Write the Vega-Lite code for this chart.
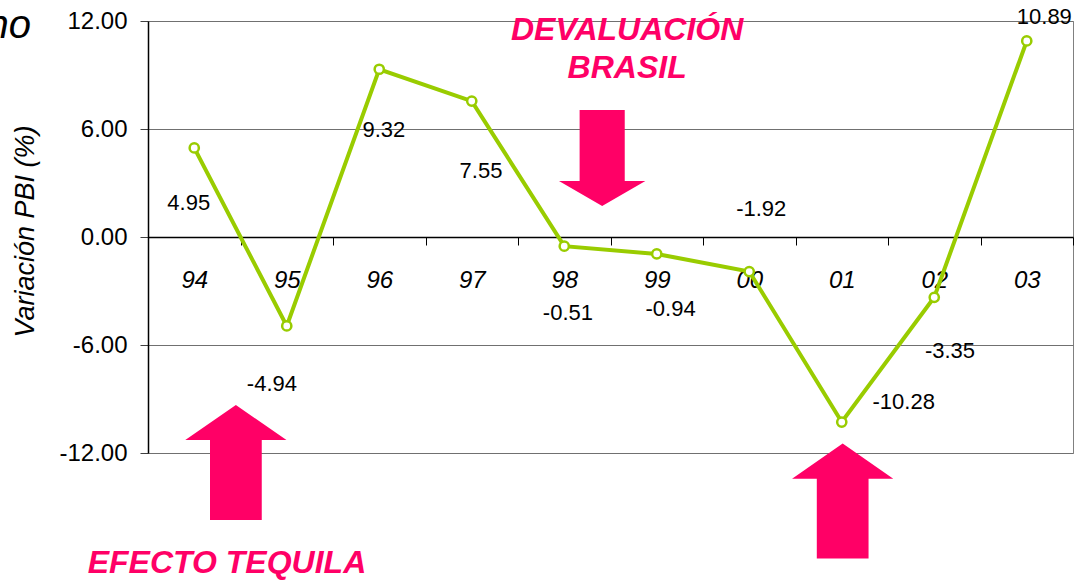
{
  "$schema": "https://vega.github.io/schema/vega-lite/v6.json",
  "autosize": "none",
  "width": 925,
  "height": 432,
  "padding": {"left": 148, "top": 21, "right": 12, "bottom": 127},
  "background": "white",
  "config": {
    "font": "Liberation Sans",
    "view": {"stroke": "#808080", "strokeWidth": 1}
  },
  "datasets": {
    "series": [
      {"x": 0, "y": 4.95, "yr": "94"},
      {"x": 1, "y": -4.94, "yr": "95"},
      {"x": 2, "y": 9.32, "yr": "96"},
      {"x": 3, "y": 7.55, "yr": "97"},
      {"x": 4, "y": -0.51, "yr": "98"},
      {"x": 5, "y": -0.94, "yr": "99"},
      {"x": 6, "y": -1.92, "yr": "00"},
      {"x": 7, "y": -10.28, "yr": "01"},
      {"x": 8, "y": -3.35, "yr": "02"},
      {"x": 9, "y": 10.89, "yr": "03"}
    ],
    "labels": [
      {"x": -0.06, "y": 1.89, "t": "4.95"},
      {"x": 0.84, "y": -8.17, "t": "-4.94"},
      {"x": 2.05, "y": 5.94, "t": "9.32"},
      {"x": 3.1, "y": 3.67, "t": "7.55"},
      {"x": 4.04, "y": -4.22, "t": "-0.51"},
      {"x": 5.15, "y": -4.0, "t": "-0.94"},
      {"x": 6.13, "y": 1.56, "t": "-1.92"},
      {"x": 7.67, "y": -9.17, "t": "-10.28"},
      {"x": 8.17, "y": -6.33, "t": "-3.35"},
      {"x": 9.19, "y": 12.22, "t": "10.89"}
    ],
    "upArrows": [
      {"x": 0.45, "y": -12.53},
      {"x": 7.01, "y": -14.67}
    ],
    "downArrows": [
      {"x": 4.41, "y": 4.39}
    ],
    "notes": [
      {"x": 4.68, "y": 11.5, "t": "DEVALUACIÓN"},
      {"x": 4.68, "y": 9.39, "t": "BRASIL"},
      {"x": 0.354, "y": -18.11, "t": "EFECTO TEQUILA"}
    ],
    "corner": [
      {"x": -1.765, "y": 11.06, "t": "no"}
    ]
  },
  "layer": [
    {
      "data": {"name": "series"},
      "mark": {"type": "line", "color": "#99CC00", "strokeWidth": 4},
      "encoding": {
        "x": {
          "field": "x", "type": "quantitative",
          "scale": {"domain": [-0.5, 9.5], "nice": false, "zero": false},
          "axis": {
            "orient": "bottom",
            "offset": -216,
            "values": [-0.5, 0.5, 1.5, 2.5, 3.5, 4.5, 5.5, 6.5, 7.5, 8.5, 9.5],
            "labelExpr": "datum.value > 9 ? '' : ['94','95','96','97','98','99','00','01','02','03'][round(datum.value + 0.5)]",
            "labelOffset": 46.25,
            "labelFlush": false,
            "labelOverlap": false,
            "labelBound": false,
            "labelFont": "Liberation Sans",
            "labelFontSize": 24,
            "labelFontStyle": "italic",
            "labelColor": "black",
            "labelBaseline": "middle",
            "labelPadding": 35,
            "tickSize": 8,
            "tickColor": "black",
            "domainColor": "black",
            "domainWidth": 1.5,
            "grid": false,
            "title": null
          }
        },
        "y": {
          "field": "y", "type": "quantitative",
          "scale": {"domain": [-12, 12], "nice": false, "zero": false},
          "axis": {
            "values": [-12, -6, 0, 6, 12],
            "labelExpr": "replace(format(datum.value, '.2f'), '\u2212', '-')",
            "labelFont": "Liberation Sans",
            "labelFontSize": 24,
            "labelColor": "black",
            "labelPadding": 13,
            "tickSize": 8,
            "tickColor": "#404040",
            "domainColor": "black",
            "domainWidth": 1.5,
            "grid": true,
            "gridColor": "#707070",
            "gridWidth": 1.2,
            "title": "Variación PBI (%)",
            "titleFont": "Liberation Sans",
            "titleFontSize": 27,
            "titleFontStyle": "italic",
            "titleFontWeight": "normal",
            "titleColor": "black",
            "titleX": -123,
            "titleY": 210,
            "titleAlign": "center",
            "titleBaseline": "middle",
            "titleAngle": -90
          }
        }
      }
    },
    {
      "data": {"name": "series"},
      "mark": {"type": "point", "filled": true, "fill": "white", "stroke": "#99CC00", "strokeWidth": 2.5, "size": 85, "opacity": 1},
      "encoding": {
        "x": {"field": "x", "type": "quantitative"},
        "y": {"field": "y", "type": "quantitative"}
      }
    },
    {
      "data": {"name": "labels"},
      "mark": {"type": "text", "fontSize": 22, "color": "black", "align": "center", "baseline": "middle"},
      "encoding": {
        "x": {"field": "x", "type": "quantitative"},
        "y": {"field": "y", "type": "quantitative"},
        "text": {"field": "t"}
      }
    },
    {
      "data": {"name": "upArrows"},
      "mark": {"type": "point", "filled": true, "color": "#FF0066", "opacity": 1, "strokeWidth": 0, "size": 13225,
        "shape": "M0,-1 L0.88,-0.39 L0.45,-0.39 L0.45,1 L-0.45,1 L-0.45,-0.39 L-0.88,-0.39 Z"},
      "encoding": {
        "x": {"field": "x", "type": "quantitative"},
        "y": {"field": "y", "type": "quantitative"}
      }
    },
    {
      "data": {"name": "downArrows"},
      "mark": {"type": "point", "filled": true, "color": "#FF0066", "opacity": 1, "strokeWidth": 0, "size": 9216,
        "shape": "M0,1 L0.9,0.48 L0.47,0.48 L0.47,-1 L-0.47,-1 L-0.47,0.48 L-0.9,0.48 Z"},
      "encoding": {
        "x": {"field": "x", "type": "quantitative"},
        "y": {"field": "y", "type": "quantitative"}
      }
    },
    {
      "data": {"name": "notes"},
      "mark": {"type": "text", "fontSize": 32, "fontWeight": "bold", "fontStyle": "italic", "color": "#FF0066", "align": "center", "baseline": "middle"},
      "encoding": {
        "x": {"field": "x", "type": "quantitative"},
        "y": {"field": "y", "type": "quantitative"},
        "text": {"field": "t"}
      }
    },
    {
      "data": {"name": "corner"},
      "mark": {"type": "text", "fontSize": 40, "fontStyle": "italic", "color": "black", "align": "right", "baseline": "alphabetic"},
      "encoding": {
        "x": {"field": "x", "type": "quantitative"},
        "y": {"field": "y", "type": "quantitative"},
        "text": {"field": "t"}
      }
    }
  ]
}
